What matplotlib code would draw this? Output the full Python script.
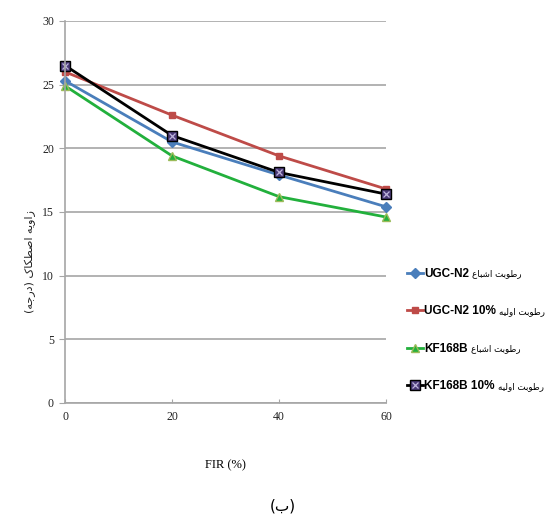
import matplotlib
matplotlib.use("Agg")
import matplotlib.pyplot as plt
from matplotlib.legend_handler import HandlerTuple

# FIR percentage on the x axis
fir = [0, 20, 40, 60]

# friction angle (degrees) for each soil / moisture case
ugc_sat = [25.3, 20.5, 17.9, 15.4]
ugc_10 = [26.0, 22.6, 19.4, 16.8]
kf_sat = [24.9, 19.4, 16.2, 14.6]
kf_10 = [26.5, 21.0, 18.1, 16.4]

series_names = ["UGC-N2", "UGC-N2 10%", "KF168B", "KF168B 10%"]
series_notes = ["رطوبت اشباع", "رطوبت اولیه", "رطوبت اشباع", "رطوبت اولیه"]
ylabel_text = "زاویه اصطکاک (درجه)"
caption_text = "(ب)"
yticks = [0, 5, 10, 15, 20, 25, 30]
xticks = [0, 20, 40, 60]

# Arabic presentation forms: isolated, final, initial, medial
FORMS = {
    'ا': ('\uFE8D', '\uFE8E', None, None),
    'ب': ('\uFE8F', '\uFE90', '\uFE91', '\uFE92'),
    'ت': ('\uFE95', '\uFE96', '\uFE97', '\uFE98'),
    'ج': ('\uFE9D', '\uFE9E', '\uFE9F', '\uFEA0'),
    'د': ('\uFEA9', '\uFEAA', None, None),
    'ر': ('\uFEAD', '\uFEAE', None, None),
    'ز': ('\uFEAF', '\uFEB0', None, None),
    'ش': ('\uFEB5', '\uFEB6', '\uFEB7', '\uFEB8'),
    'ص': ('\uFEB9', '\uFEBA', '\uFEBB', '\uFEBC'),
    'ط': ('\uFEC1', '\uFEC2', '\uFEC3', '\uFEC4'),
    'ع': ('\uFEC9', '\uFECA', '\uFECB', '\uFECC'),
    'ل': ('\uFEDD', '\uFEDE', '\uFEDF', '\uFEE0'),
    'ه': ('\uFEE9', '\uFEEA', '\uFEEB', '\uFEEC'),
    'و': ('\uFEED', '\uFEEE', None, None),
    'ی': ('\uFBFC', '\uFBFD', '\uFBFE', '\uFBFF'),
    'ک': ('\uFB8E', '\uFB8F', '\uFB90', '\uFB91'),
}
MIRROR = {'(': ')', ')': '('}


def shape(s):
    out = []
    for i, c in enumerate(s):
        if c not in FORMS:
            out.append(c)
            continue
        iso, fin, ini, med = FORMS[c]
        prev = s[i - 1] if i > 0 else ''
        nxt = s[i + 1] if i + 1 < len(s) else ''
        jp = prev in FORMS and FORMS[prev][2] is not None
        jn = ini is not None and nxt in FORMS
        if jp and jn:
            out.append(med)
        elif jp:
            out.append(fin)
        elif jn:
            out.append(ini)
        else:
            out.append(iso)
    return ''.join(MIRROR.get(c, c) for c in reversed(out))


fig = plt.figure(figsize=(5.47, 5.24), dpi=100)
ax = fig.add_axes([0.119, 0.231, 0.587, 0.729])

grid_c = "#a6a6a6"
l1, = ax.plot(fir, ugc_sat, color="#4a7ebb", lw=2, marker="D", ms=5,
              mfc="#4a7ebb", mec="#4a7ebb", clip_on=False)
l2, = ax.plot(fir, ugc_10, color="#be4b48", lw=2, marker="s", ms=5,
              mfc="#be4b48", mec="#be4b48", clip_on=False)
l3, = ax.plot(fir, kf_sat, color="#22b03c", lw=2, marker="^", ms=6,
              mfc="#22b03c", mec="#9bbb59", clip_on=False)
l4, = ax.plot(fir, kf_10, color="black", lw=2, marker="s", ms=7,
              mfc="#4a3a78", mec="black", mew=1, clip_on=False)
l4x, = ax.plot(fir, kf_10, ls="none", marker="x", ms=5, mec="#bdb4dc",
               mew=0.9, clip_on=False)

ax.set_xlim(0, 60)
ax.set_ylim(0, 30)
ax.set_xticks(xticks)
ax.set_yticks(yticks)
ax.yaxis.grid(True, color=grid_c, lw=1.2)
ax.set_axisbelow(True)
for side in ["top", "right"]:
    ax.spines[side].set_visible(False)
for side in ["left", "bottom"]:
    ax.spines[side].set_color(grid_c)
    ax.spines[side].set_linewidth(1.2)
ax.tick_params(axis="y", direction="out", length=4, color=grid_c, pad=4)
ax.tick_params(axis="x", direction="in", length=3, color=grid_c, pad=6)
for lab in ax.get_xticklabels() + ax.get_yticklabels():
    lab.set_fontfamily("Liberation Serif")
    lab.set_fontsize(8.5)
    lab.set_color("#222222")

ax.set_xlabel("FIR (%)", family="Liberation Serif", fontsize=9, labelpad=26)
fig.text(0.055, 0.50, shape(ylabel_text), rotation=90, ha="center",
         va="center", family="DejaVu Sans", fontsize=8, color="#222222")
fig.text(0.517, 0.035, shape(caption_text), ha="center", va="center",
         family="DejaVu Sans", fontsize=11)

leg = fig.legend([l1, l2, l3, (l4, l4x)], series_names, loc="center left",
                 bbox_to_anchor=(0.725, 0.370), frameon=False,
                 handlelength=1.3, handletextpad=0.15, labelspacing=2.15,
                 prop={"family": "Liberation Sans", "weight": "bold", "size": 8.5},
                 handler_map={tuple: HandlerTuple(ndivide=1, pad=0)})
fig.draw_without_rendering()
for txt, note in zip(leg.get_texts(), series_notes):
    ax.annotate(shape(note), xy=(1, 0.5), xycoords=txt, xytext=(2, 0),
                textcoords="offset points", ha="left", va="center",
                family="DejaVu Sans", fontsize=6.3, annotation_clip=False)

fig.savefig("out.png", dpi=100)
